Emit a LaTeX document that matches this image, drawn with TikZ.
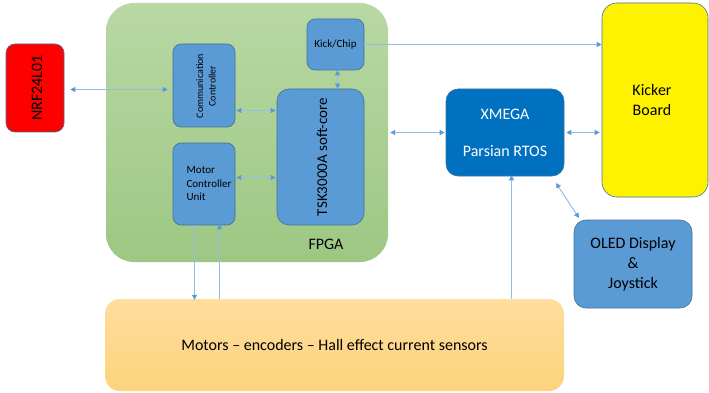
\documentclass[tikz,border=0pt]{standalone}
\usepackage{fontspec}
\setmainfont{Carlito}
\usetikzlibrary{arrows.meta,calc}
\definecolor{lineblue}{HTML}{93BDE6}
\definecolor{tipblue}{HTML}{5B9BD5}
\definecolor{boxblue}{HTML}{5B9BD5}
\definecolor{boxedge}{HTML}{41719C}
\definecolor{xblue}{HTML}{0070C0}
\definecolor{fpgatop}{HTML}{B8D8A4}
\definecolor{fpgabot}{HTML}{9DC783}
\definecolor{mottop}{HTML}{FEDD9E}
\definecolor{motbot}{HTML}{FDD37C}
\tikzset{
  blk/.style={rectangle, rounded corners=8pt, inner sep=0pt, draw=boxedge, line width=0.6pt, fill=boxblue, align=center},
  dlink/.style={draw=lineblue, line width=1pt, {Triangle[width=5pt,length=5pt,color=tipblue]}-{Triangle[width=5pt,length=5pt,color=tipblue]}},
  slink/.style={draw=lineblue, line width=1pt, -{Triangle[width=5pt,length=5pt,color=tipblue]}},
}
\begin{document}
\begin{tikzpicture}[x=1pt,y=-1pt]
\useasboundingbox (0,0) rectangle (709,393);
% FPGA
\node[rectangle, rounded corners=28pt, inner sep=0pt, minimum width=282pt, minimum height=259pt, top color=fpgatop, bottom color=fpgabot] (fpga) at (247,132.5) {};
\node[font=\fontsize{16}{19}\selectfont] (fpgalbl) at (326,244) {FPGA};
% Motors
\node[rectangle, rounded corners=15pt, inner sep=0pt, minimum width=459pt, minimum height=92pt, top color=mottop, bottom color=motbot, font=\fontsize{16}{19}\selectfont] (mot) at (334.5,345) {Motors -- encoders -- Hall effect current sensors};
% NRF
\node[blk, fill=red, minimum width=58pt, minimum height=88pt, rounded corners=9pt] (nrf) at (35,88) {};
\node[rotate=90, font=\fontsize{16}{19}\selectfont] (nrft) at (37,88) {NRF24L01};
% Comm
\node[blk, minimum width=62pt, minimum height=83pt] (comm) at (204,85.5) {};
\node[rotate=90, font=\fontsize{10}{12.5}\selectfont, align=center] (commt) at (206,86) {Communication\\Controller};
% MCU
\node[blk, minimum width=62pt, minimum height=82pt] (mcu) at (204,184) {};
\node[font=\fontsize{11}{13.5}\selectfont, align=left] (mcut) at (209,184) {Motor\\Controller\\Unit};
% Kick
\node[blk, minimum width=57pt, minimum height=51pt, font=\fontsize{11}{13}\selectfont] (kick) at (335.5,44.5) {Kick/Chip};
% TSK
\node[blk, minimum width=87pt, minimum height=136pt, rounded corners=12pt] (tsk) at (320.5,157) {};
\node[rotate=90, font=\fontsize{15}{18}\selectfont] (tskt) at (322,157) {TSK3000A soft-core};
% XMEGA
\node[blk, fill=xblue, minimum width=118pt, minimum height=87pt, rounded corners=12pt] (xm) at (505,132.5) {};
\node[text=white, font=\fontsize{16}{19}\selectfont] (xm1) at (505,114) {XMEGA};
\node[text=white, font=\fontsize{16}{19}\selectfont] (xm2) at (505,151) {Parsian RTOS};
% Kicker
\node[blk, fill=yellow, minimum width=106pt, minimum height=194pt, rounded corners=15pt] (kicker) at (655,100) {};
\node[font=\fontsize{16}{20}\selectfont, align=center] (kickert) at (652,100) {Kicker\\Board};
% OLED
\node[blk, minimum width=118pt, minimum height=88pt, rounded corners=12pt, font=\fontsize{16}{20}\selectfont] (oled) at (633,264) {OLED Display\\\&\\Joystick};
% connectors
\draw[dlink] ($(nrf.east |- 0,89.5)+(6,0)$) -- ($(comm.west |- 0,89.5)+(-5,0)$);
\draw[dlink] ([xshift=1pt]comm.east |- 0,110.5) -- ([xshift=-1pt]tsk.west |- 0,110.5);
\draw[dlink] ([xshift=1pt]mcu.east |- 0,177.5) -- ([xshift=-1pt]tsk.west |- 0,177.5);
\draw[dlink] (kick.south -| 337.5,0) -- (tsk.north -| 337.5,0);
\draw[slink] (kick.east |- 0,44.5) -- (kicker.west |- 0,44.5);
\draw[dlink] ([xshift=2pt]fpga.east |- 0,132.5) -- ([xshift=-1pt]xm.west |- 0,132.5);
\draw[dlink] ([xshift=2pt]xm.east |- 0,132.5) -- ([xshift=-2pt]kicker.west |- 0,132.5);
\coordinate (d1) at (556,183);
\coordinate (d2) at (579,218);
\draw[dlink] (d1) -- (d2);
\draw[slink] (mcu.south -| 194.5,0) -- ([yshift=-1pt]mot.north -| 194.5,0);
\draw[slink] (mot.north -| 219.5,0) -- ([yshift=1pt]mcu.south -| 219.5,0);
\draw[slink] (mot.north -| 511.5,0) -- ([yshift=1pt]xm.south -| 511.5,0);
\end{tikzpicture}
\end{document}
